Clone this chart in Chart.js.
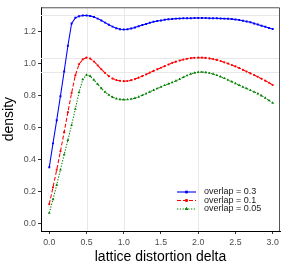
<!DOCTYPE html>
<html>
<head>
<meta charset="utf-8">
<script src="https://cdn.jsdelivr.net/npm/chart.js@4/dist/chart.umd.min.js"></script>
<style>
html,body{margin:0;padding:0;background:#fff;}
#c{display:block;}
</style>
</head>
<body>
<canvas id="c" width="284" height="266"></canvas>
<script>
const xValues = [0.00,0.05,0.10,0.15,0.20,0.25,0.30,0.35,0.40,0.45,0.50,0.55,0.60,0.65,0.70,0.75,0.80,0.85,0.90,0.95,1.00,
  1.05,1.10,1.15,1.20,1.25,1.30,1.35,1.40,1.45,1.50,1.55,1.60,1.65,1.70,1.75,1.80,1.85,1.90,1.95,2.00,
  2.05,2.10,2.15,2.20,2.25,2.30,2.35,2.40,2.45,2.50,2.55,2.60,2.65,2.70,2.75,2.80,2.85,2.90,2.95,3.00];
const overlap03 = [0.350,0.500,0.645,0.795,0.950,1.110,1.250,1.285,1.295,1.300,1.300,1.297,1.290,1.280,1.268,1.255,1.242,1.230,1.220,1.214,1.212,
  1.213,1.218,1.225,1.232,1.240,1.247,1.254,1.260,1.265,1.269,1.273,1.276,1.278,1.280,1.281,1.282,1.283,1.283,1.284,1.284,
  1.284,1.284,1.283,1.283,1.282,1.281,1.280,1.279,1.277,1.274,1.271,1.267,1.262,1.257,1.250,1.243,1.236,1.229,1.222,1.215];
const overlap01 = [0.120,0.225,0.335,0.450,0.570,0.695,0.815,0.925,0.995,1.025,1.036,1.030,1.012,0.988,0.963,0.940,0.920,0.905,0.896,0.891,0.889,
  0.890,0.895,0.902,0.911,0.921,0.931,0.942,0.953,0.963,0.973,0.983,0.993,1.003,1.011,1.018,1.024,1.029,1.033,1.035,1.036,
  1.036,1.034,1.031,1.027,1.022,1.015,1.007,0.999,0.990,0.981,0.971,0.960,0.949,0.938,0.927,0.916,0.904,0.892,0.879,0.865];
const overlap005 = [0.065,0.150,0.240,0.335,0.430,0.520,0.615,0.715,0.820,0.900,0.928,0.920,0.897,0.870,0.844,0.821,0.803,0.789,0.780,0.775,0.773,
  0.774,0.777,0.783,0.791,0.801,0.811,0.822,0.833,0.843,0.853,0.863,0.872,0.881,0.891,0.902,0.913,0.924,0.934,0.941,0.945,
  0.946,0.944,0.940,0.934,0.926,0.917,0.907,0.896,0.886,0.875,0.864,0.853,0.843,0.832,0.822,0.811,0.798,0.784,0.769,0.753];
const seriesNames = ['overlap = 0.3','overlap = 0.1','overlap = 0.05'];
const xTicks = [0,0.5,1,1.5,2,2.5,3];
const xTickLabels = ['0.0','0.5','1.0','1.5','2.0','2.5','3.0'];
const yTicks = [0,0.2,0.4,0.6,0.8,1.0,1.2];
const yTickLabels = ['0.0','0.2','0.4','0.6','0.8','1.0','1.2'];
const refX = [0.5,1.0,2.0];
const refY = [1.300,1.036,0.946];
const xTitle = 'lattice distortion delta';
const yTitle = 'density';

const FONT = "'Liberation Sans', Arial, sans-serif";
const toPts = arr => arr.map((y,i)=>({x:xValues[i], y:y}));

const styles = [
  {color:'#0000ff', dash:[], point:'rect', r:1.4},
  {color:'#ff0000', dash:[4,2], point:'circle', r:1.1},
  {color:'#008000', dash:[1.3,1.5], point:'triangle', r:1.6}
];
const seriesData = [overlap03, overlap01, overlap005];

const datasets = seriesData.map((d,i)=>({
  label: seriesNames[i],
  data: toPts(d),
  showLine: true,
  borderColor: styles[i].color,
  backgroundColor: styles[i].color,
  borderWidth: 1.05,
  borderDash: styles[i].dash,
  pointStyle: styles[i].point,
  pointRadius: styles[i].r,
  pointBorderWidth: 0,
  pointBackgroundColor: styles[i].color,
  tension: 0
}));

const refLines = {
  id:'refLines',
  beforeDatasetsDraw(chart){
    const {ctx, chartArea:a, scales:{x,y}} = chart;
    ctx.save();
    ctx.strokeStyle = '#e8e8e8';
    ctx.lineWidth = 1;
    refX.forEach(v=>{const px=Math.round(x.getPixelForValue(v))+0.5; ctx.beginPath(); ctx.moveTo(px,a.top); ctx.lineTo(px,a.bottom); ctx.stroke();});
    refY.forEach(v=>{const py=Math.round(y.getPixelForValue(v))+0.5; ctx.beginPath(); ctx.moveTo(a.left,py); ctx.lineTo(a.right,py); ctx.stroke();});
    ctx.strokeStyle = '#555';
    ctx.beginPath();
    ctx.moveTo(a.left, a.top+0.5); ctx.lineTo(a.right-0.5, a.top+0.5); ctx.lineTo(a.right-0.5, a.bottom);
    ctx.stroke();
    ctx.restore();
  }
};

const legendBox = {
  id:'legendBox',
  afterDraw(chart){
    const {ctx, chartArea:a} = chart;
    const rowsY = [a.bottom-39, a.bottom-30.5, a.bottom-22];
    const x0 = a.right-103, x1 = a.right-84, tx = a.right-76;
    ctx.save();
    styles.forEach((s,i)=>{
      const yy = rowsY[i];
      ctx.strokeStyle = s.color; ctx.lineWidth = 1.1; ctx.setLineDash(s.dash);
      ctx.beginPath(); ctx.moveTo(x0,yy); ctx.lineTo(x1,yy); ctx.stroke();
      ctx.setLineDash([]);
      ctx.fillStyle = s.color;
      Chart.helpers.drawPoint(ctx, {pointStyle:s.point, radius:s.r+0.3, borderWidth:0}, (x0+x1)/2, yy);
      ctx.fill();
      ctx.fillStyle = '#1a1a1a';
      ctx.font = '9px ' + FONT;
      ctx.textBaseline = 'middle';
      ctx.textAlign = 'left';
      ctx.fillText(seriesNames[i], tx, yy);
    });
    ctx.restore();
  }
};

new Chart(document.getElementById('c'), {
  type:'scatter',
  data:{datasets},
  plugins:[refLines, legendBox],
  options:{
    responsive:false,
    animation:false,
    devicePixelRatio:1,
    layout:{padding:{top:2,right:3,left:0,bottom:0}},
    plugins:{legend:{display:false}, tooltip:{enabled:false}},
    scales:{
      x:{
        type:'linear', min:-0.111, max:3.098,
        afterBuildTicks: s=>{ s.ticks = xTicks.map(v=>({value:v})); },
        afterFit: s=>{ s.height = 35; },
        ticks:{callback:(v,i)=>xTickLabels[i], color:'#4d4d4d', font:{size:8.8, family:FONT}, padding:3, maxRotation:0},
        grid:{drawOnChartArea:false, drawTicks:true, tickLength:3, tickColor:'#333', tickWidth:1},
        border:{display:true, color:'#000', width:1},
        title:{display:true, text:xTitle, color:'#000', font:{size:14, family:FONT}, padding:0}
      },
      y:{
        type:'linear', min:-0.048, max:1.351,
        afterBuildTicks: s=>{ s.ticks = yTicks.map(v=>({value:v})); },
        afterFit: s=>{ s.width = 41; },
        ticks:{callback:(v,i)=>yTickLabels[i], color:'#4d4d4d', font:{size:8.8, family:FONT}, padding:2},
        grid:{drawOnChartArea:false, drawTicks:true, tickLength:3, tickColor:'#333', tickWidth:1},
        border:{display:true, color:'#000', width:1},
        title:{display:true, text:yTitle, color:'#000', font:{size:14, family:FONT}, padding:{top:1,bottom:0}}
      }
    }
  }
});
</script>
</body>
</html>
